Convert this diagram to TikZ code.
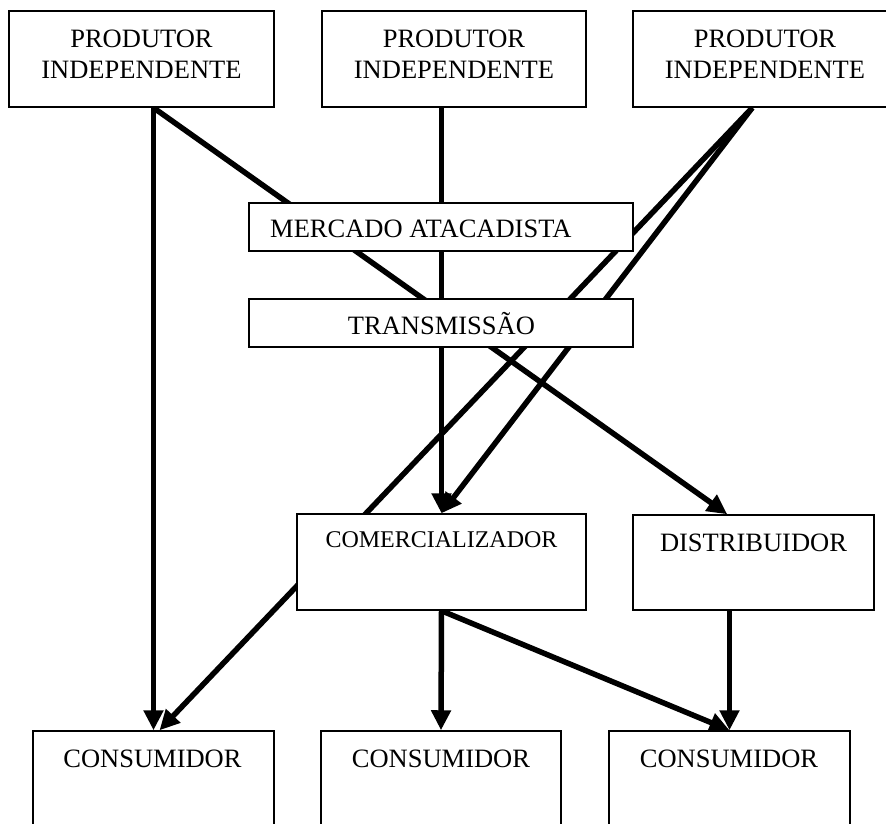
\documentclass[tikz,border=0pt]{standalone}
\usepackage{fontspec}
\setmainfont{Liberation Serif}
\usetikzlibrary{arrows.meta,calc,backgrounds}

\tikzset{
  box/.style={draw, line width=1.5pt, fill=white, inner sep=0pt, rectangle},
  lbl/.style={inner sep=0pt, anchor=base, font=\fontsize{26.5}{30}\selectfont},
  flow/.style={line width=5.5pt, -{Triangle[length=20pt,width=19pt]}},
}

\begin{document}
\begin{tikzpicture}[x=1pt,y=-1pt]
  \clip (0,0) rectangle (886,823);

  % producers
  \node[box, minimum width=265pt, minimum height=96pt] (p1) at (141.5,59) {};
  \node[box, minimum width=264pt, minimum height=96pt] (p2) at (454,59) {};
  \node[box, minimum width=264pt, minimum height=96pt] (p3) at (765,59) {};
  \node[lbl] (p1a) at (141.5,47) {PRODUTOR};
  \node[lbl] (p1b) at (141.5,78) {INDEPENDENTE};
  \node[lbl] (p2a) at (454,47) {PRODUTOR};
  \node[lbl] (p2b) at (454,78) {INDEPENDENTE};
  \node[lbl] (p3a) at (765,47) {PRODUTOR};
  \node[lbl] (p3b) at (765,78) {INDEPENDENTE};

  % market and transmission
  \node[box, minimum width=384pt, minimum height=48pt] (m) at (441,227) {};
  \node[lbl, anchor=base west] (mt) at (270,237) {MERCADO ATACADISTA};
  \node[box, minimum width=384pt, minimum height=48pt] (t) at (441,323) {};
  \node[lbl] (tt) at (441.5,334) {TRANSMISSÃO};

  % trader and distributor
  \node[box, minimum width=289pt, minimum height=96pt] (com) at (441.5,562) {};
  \node[lbl, font=\fontsize{24}{28}\selectfont] (comt) at (441.5,547) {COMERCIALIZADOR};
  \node[box, minimum width=241pt, minimum height=95pt] (d) at (753.5,562.5) {};
  \node[lbl] (dt) at (753.5,551) {DISTRIBUIDOR};

  % consumers
  \node[box, minimum width=241pt, minimum height=110pt] (c1) at (153.5,786) {};
  \node[box, minimum width=240pt, minimum height=110pt] (c2) at (441,786) {};
  \node[box, minimum width=241pt, minimum height=110pt] (c3) at (729.5,786) {};
  \node[lbl] (c1t) at (152.5,767) {CONSUMIDOR};
  \node[lbl] (c2t) at (441,767) {CONSUMIDOR};
  \node[lbl] (c3t) at (729,767) {CONSUMIDOR};

  % connectors run behind the boxes
  \begin{scope}[on background layer]
    \fill[white] (0,0) rectangle (886,823);
    \coordinate (p1o) at (c1.north |- p1.south);
    \coordinate (p3o) at ($(p3.south west)+(120,0)$);
    \coordinate (din) at ($(d.north west)+(95,0)$);
    \coordinate (c1in) at ($(c1.north)+(6,0)$);
    \draw[flow] (p1o) -- (c1.north);
    \draw[flow] (p1o) -- (din);
    \draw[flow] (com.north |- p2.south) -- (com.north);
    \draw[flow] (p3o) -- (com.north);
    \draw[flow] (p3o) -- (c1in);
    \draw[flow] (com.south) -- (c2.north);
    \draw[flow] (com.south) -- (c3.north);
    \draw[flow] (c3.north |- d.south) -- (c3.north);
  \end{scope}
\end{tikzpicture}
\end{document}
